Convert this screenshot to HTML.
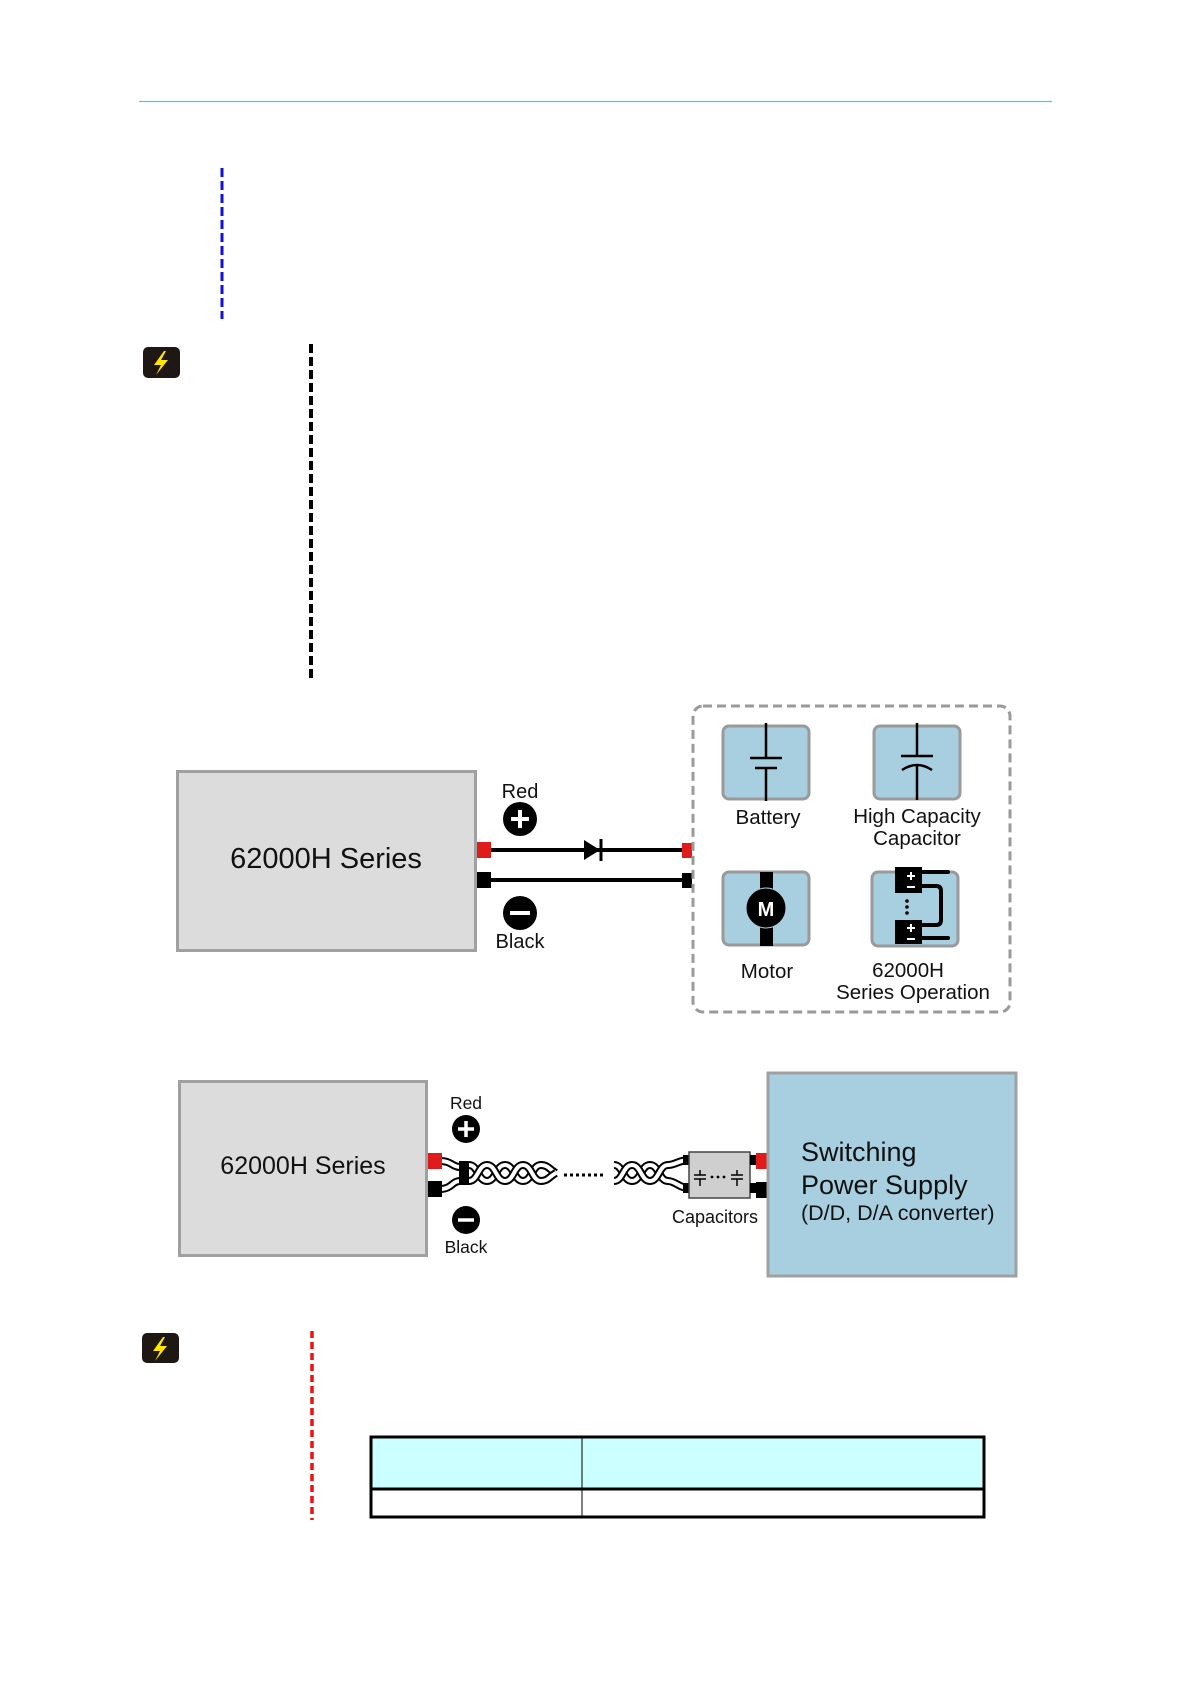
<!DOCTYPE html>
<html><head><meta charset="utf-8"><style>
html,body{margin:0;padding:0;background:#fff;}
svg{display:block;}
text{font-family:"Liberation Sans",sans-serif;fill:#111;}
</style></head><body>
<svg width="1191" height="1684" viewBox="0 0 1191 1684" xmlns="http://www.w3.org/2000/svg">
<defs>
<path id="tw1" d="M469,1165 C478,1165 478,1181 487,1181 C496,1181 496,1165 505,1165 C514,1165 514,1181 523,1181 C532,1181 532,1165 541,1165 C548,1165 550,1170 556,1173"/>
<path id="tw2" d="M469,1181 C478,1181 478,1165 487,1165 C496,1165 496,1181 505,1181 C514,1181 514,1165 523,1165 C532,1165 532,1181 541,1181 C548,1181 550,1176 556,1173"/>
<path id="tw3" d="M614,1165 C623,1165 623,1181 632,1181 C641,1181 641,1165 650,1165 C659,1165 659,1181 668,1181 C675,1181 680,1188 688,1188"/>
<path id="tw4" d="M614,1181 C623,1181 623,1165 632,1165 C641,1165 641,1181 650,1181 C659,1181 659,1165 668,1165 C675,1165 680,1160 688,1160"/>
</defs>
<line x1="139" y1="101.5" x2="1052" y2="101.5" stroke="#5cc8cc" stroke-width="1.2"/>
<line x1="222" y1="168" x2="222" y2="319" stroke="#1010e0" stroke-width="3" stroke-dasharray="9,4"/>
<rect x="143" y="347" width="37" height="31" rx="5" fill="#1f1714"/>
<path d="M164,351 L154,365 L161,365 L156,375 L168,360 L161,360 L166,351 Z" fill="#ffe600"/>
<line x1="311" y1="344" x2="311" y2="678" stroke="#000" stroke-width="4" stroke-dasharray="9,4"/>

<rect x="177.5" y="771.5" width="298" height="179" fill="#dcdcdc" stroke="#a0a0a0" stroke-width="3"/>
<text x="326" y="868" font-size="29" text-anchor="middle">62000H Series</text>
<rect x="477" y="842" width="14" height="16" fill="#e01b1b"/>
<rect x="477" y="872" width="14" height="16" fill="#000"/>
<line x1="491" y1="850" x2="688" y2="850" stroke="#000" stroke-width="4"/>
<line x1="491" y1="880" x2="688" y2="880" stroke="#000" stroke-width="4"/>
<path d="M584,840 L584,860 L600,850 Z" fill="#000"/>
<line x1="601" y1="839" x2="601" y2="861" stroke="#000" stroke-width="3"/>
<rect x="682" y="843" width="10" height="15" fill="#e01b1b"/>
<rect x="682" y="873" width="10" height="15" fill="#000"/>
<text x="520" y="798" font-size="20" text-anchor="middle">Red</text>
<circle cx="520" cy="819" r="17" fill="#000"/>
<path d="M511,819 H529 M520,810 V828" stroke="#fff" stroke-width="4"/>
<circle cx="520" cy="913" r="17" fill="#000"/>
<path d="M510,913 H530" stroke="#fff" stroke-width="4"/>
<text x="520" y="948" font-size="20" text-anchor="middle">Black</text>

<rect x="693" y="706" width="317" height="306" rx="10" fill="none" stroke="#9a9a9a" stroke-width="3" stroke-dasharray="9,5"/>
<rect x="723" y="726" width="86" height="73" rx="6" fill="#a8cfe0" stroke="#9a9a9a" stroke-width="3"/>
<path d="M766,723 V758 M766,768 V801 M750,758 H782 M755,768 H777" stroke="#000" stroke-width="2.5" fill="none"/>
<text x="768" y="824" font-size="20.5" text-anchor="middle">Battery</text>
<rect x="874" y="726" width="86" height="73" rx="6" fill="#a8cfe0" stroke="#9a9a9a" stroke-width="3"/>
<path d="M917,723 V756 M917,766 V800 M901,756 H933" stroke="#000" stroke-width="2.5" fill="none"/>
<path d="M902,770 Q917,760 932,770" stroke="#000" stroke-width="2.5" fill="none"/>
<text x="917" y="823" font-size="20.5" text-anchor="middle">High Capacity</text>
<text x="917" y="845" font-size="20.5" text-anchor="middle">Capacitor</text>
<rect x="723" y="872" width="86" height="73" rx="6" fill="#a8cfe0" stroke="#9a9a9a" stroke-width="3"/>
<rect x="760" y="872" width="13" height="74" fill="#000"/>
<circle cx="766" cy="908" r="20" fill="#000" stroke="#a8cfe0" stroke-width="1"/>
<text x="766" y="916" font-size="20" font-weight="bold" text-anchor="middle" style="fill:#fff">M</text>
<text x="767" y="978" font-size="20.5" text-anchor="middle">Motor</text>
<rect x="872" y="872" width="86" height="74" rx="6" fill="#a8cfe0" stroke="#9a9a9a" stroke-width="3"/>
<rect x="895" y="867" width="27" height="26" fill="#000"/>
<rect x="895" y="920" width="27" height="24" fill="#000"/>
<path d="M918,872 H948 M918,886 H936 Q941,886 941,891 V920 Q941,925 936,925 H918 M918,938 H948" stroke="#000" stroke-width="4" fill="none" stroke-linecap="round"/>
<path d="M911,872 V880 M907,876 H915 M907,887 H915 M911,924 V932 M907,928 H915 M907,939 H915" stroke="#fff" stroke-width="2"/>
<circle cx="907" cy="901" r="1.8" fill="#000"/><circle cx="907" cy="907" r="1.8" fill="#000"/><circle cx="907" cy="913" r="1.8" fill="#000"/>
<text x="908" y="977" font-size="20.5" text-anchor="middle">62000H</text>
<text x="913" y="999" font-size="20.5" text-anchor="middle">Series Operation</text>

<rect x="179.5" y="1081.5" width="247" height="174" fill="#dcdcdc" stroke="#a0a0a0" stroke-width="3"/>
<text x="303" y="1174" font-size="25" text-anchor="middle">62000H Series</text>
<text x="466" y="1109" font-size="17.5" text-anchor="middle">Red</text>
<circle cx="466" cy="1129" r="14" fill="#000"/>
<path d="M458,1129 H474 M466,1121 V1137" stroke="#fff" stroke-width="3.5"/>
<circle cx="466" cy="1220" r="14" fill="#000"/>
<path d="M458,1220 H474" stroke="#fff" stroke-width="3.5"/>
<text x="466" y="1253" font-size="17.5" text-anchor="middle">Black</text>
<path d="M440,1161 C452,1161 452,1167 460,1167 M440,1189 C452,1189 452,1181 460,1181" stroke="#000" stroke-width="8" fill="none"/>
<path d="M440,1161 C452,1161 452,1167 460,1167 M440,1189 C452,1189 452,1181 460,1181" stroke="#fff" stroke-width="4" fill="none"/>
<rect x="428" y="1153" width="14" height="16" fill="#e01b1b"/>
<rect x="428" y="1181" width="14" height="16" fill="#000"/>
<use href="#tw1" stroke="#000" stroke-width="8" fill="none"/>
<use href="#tw1" stroke="#fff" stroke-width="4" fill="none"/>
<use href="#tw2" stroke="#000" stroke-width="8" fill="none"/>
<use href="#tw2" stroke="#fff" stroke-width="4" fill="none"/>
<rect x="459" y="1161" width="10" height="24" fill="#000"/>
<line x1="564" y1="1175" x2="604" y2="1175" stroke="#000" stroke-width="3" stroke-dasharray="3,3"/>
<use href="#tw3" stroke="#000" stroke-width="8" fill="none"/>
<use href="#tw3" stroke="#fff" stroke-width="4" fill="none"/>
<use href="#tw4" stroke="#000" stroke-width="8" fill="none"/>
<use href="#tw4" stroke="#fff" stroke-width="4" fill="none"/>
<rect x="683" y="1155" width="6" height="10" fill="#000"/>
<rect x="683" y="1183" width="6" height="10" fill="#000"/>
<rect x="689" y="1152" width="61" height="46" fill="#cfcfcf" stroke="#444" stroke-width="1.5"/>
<path d="M700,1170 V1175 M700,1179 V1186 M694,1175 H706 M694,1179 H706 M737,1170 V1175 M737,1179 V1186 M731,1175 H743 M731,1179 H743" stroke="#000" stroke-width="1.5"/>
<circle cx="712" cy="1177" r="1.4" fill="#000"/><circle cx="718" cy="1177" r="1.4" fill="#000"/><circle cx="724" cy="1177" r="1.4" fill="#000"/>
<rect x="750" y="1155" width="6" height="10" fill="#000"/>
<rect x="750" y="1183" width="6" height="10" fill="#000"/>
<rect x="756" y="1153" width="11" height="16" fill="#e01b1b"/>
<rect x="756" y="1182" width="11" height="16" fill="#000"/>
<text x="715" y="1223" font-size="18" text-anchor="middle">Capacitors</text>
<rect x="768" y="1073" width="248" height="203" fill="#a8cfe0" stroke="#a0a0a0" stroke-width="3"/>
<text x="801" y="1161" font-size="27">Switching</text>
<text x="801" y="1194" font-size="27">Power Supply</text>
<text x="801" y="1220" font-size="21.5">(D/D, D/A converter)</text>

<rect x="142" y="1333" width="37" height="30" rx="5" fill="#1f1714"/>
<path d="M163,1337 L153,1351 L160,1351 L155,1361 L167,1346 L160,1346 L165,1337 Z" fill="#ffe600"/>
<line x1="312" y1="1331" x2="312" y2="1520" stroke="#f01010" stroke-width="3.5" stroke-dasharray="7,4"/>
<rect x="371" y="1437" width="613" height="52" fill="#ccffff"/>
<rect x="371" y="1437" width="613" height="80" fill="none" stroke="#000" stroke-width="3"/>
<line x1="371" y1="1489" x2="984" y2="1489" stroke="#000" stroke-width="3"/>
<line x1="582" y1="1437" x2="582" y2="1517" stroke="#000" stroke-width="1"/>
</svg>
</body></html>
